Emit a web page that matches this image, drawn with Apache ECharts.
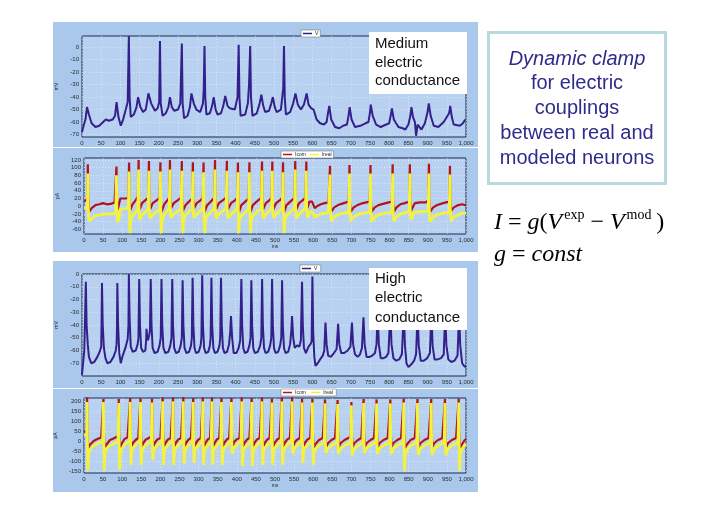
<!DOCTYPE html>
<html>
<head>
<meta charset="utf-8">
<script src="https://cdn.jsdelivr.net/npm/echarts@6.0.0/dist/echarts.min.js"></script>
<style>
html,body{margin:0;padding:0;background:#fff;}
#c{width:728px;height:515px;}
</style>
</head>
<body>
<div id="c"></div>
<script>
// ---------------- DATA ----------------
const xTicks = [0,50,100,150,200,250,300,350,400,450,500,550,600,650,700,750,800,850,900,950,1000];
const yTicksMedV = [-70,-60,-50,-40,-30,-20,-10,0];
const yTicksMedI = [-60,-40,-20,0,20,40,60,80,100,120];
const yTicksHighV = [-70,-60,-50,-40,-30,-20,-10,0];
const yTicksHighI = [-150,-100,-50,0,50,100,150,200];

// Medium conductance: membrane potential V (mV)
const vMed = [[0,-68],[5,-62],[9,-58],[13,-48],[18,-54],[25,-61],[35,-64],[45,-63],[55,-60],[62,-58],[70,-59],[80,-58],[86,-55],[90,-44],[95,-56],[101,-63],[107,-58],[114,-50],[119,-44],[122,9],[124,-40],[127,-56],[135,-54],[142,-48],[146,-40],[152,-48],[159,-52],[166,-50],[173,-37],[180,-45],[190,-51],[197,-49],[201,-44],[203,5],[205,-45],[210,-55],[218,-53],[225,-48],[229,-40],[234,-48],[240,-51],[250,-50],[256,-45],[260,3],[262,-45],[266,-57],[275,-55],[281,-48],[285,-37],[291,-45],[298,-50],[308,-52],[315,-45],[317,-34],[319,1],[321,-40],[324,-54],[333,-53],[339,-47],[343,-40],[348,-50],[353,-54],[362,-53],[368,-47],[373,-39],[379,-47],[385,-49],[398,-50],[405,-40],[408,2],[410,-40],[413,-55],[425,-54],[432,-45],[435,-30],[438,1],[440,-40],[444,-55],[455,-53],[462,-46],[467,-38],[472,-47],[477,-52],[487,-51],[493,-45],[497,-40],[502,-48],[507,-52],[518,-50],[524,-33],[526,1],[528,-40],[531,-54],[542,-52],[550,-45],[556,-37],[562,-46],[570,-50],[578,-46],[585,-37],[590,-46],[597,-49],[603,-50],[611,-58],[620,-61],[630,-62],[637,-60],[641,-52],[644,-47],[649,-58],[659,-64],[670,-65],[680,-63],[690,-62],[694,-55],[697,-48],[702,-58],[711,-64],[725,-63],[738,-61],[746,-60],[750,-52],[752,-46],[757,-55],[766,-62],[778,-64],[792,-62],[800,-61],[805,-53],[807,-49],[812,-58],[824,-64],[835,-65],[842,-66],[850,-62],[855,-55],[858,-48],[862,-56],[867,-60],[870,-71],[874,-62],[884,-66],[893,-61],[900,-52],[903,-45],[908,-55],[916,-63],[928,-64],[942,-60],[948,-57],[952,-55],[956,-53],[959,-47],[963,-56],[968,-62],[984,-63],[992,-61],[998,-58]];

// Medium conductance: currents (pA)
const iComMed = [[0,14],[6,15],[9,22],[10,109],[11,30],[13,-15],[20,-5],[30,3],[40,5],[50,8],[60,5],[70,6],[80,10],[84,15],
[85,103],[86,20],[88,-10],[92,-5],[95,20],[110,20],[116,22],
[118,113],[119,20],[121,-10],[127,5],[135,15],[141,25],
[143,120],[144,20],[146,-8],[152,8],[160,15],[168,22],
[170,117],[171,20],[173,-8],[180,8],[190,15],[198,22],
[200,114],[201,10],[203,-15],[210,5],[218,15],[223,22],
[225,120],[226,20],[228,-5],[235,8],[245,15],[254,22],
[256,117],[257,10],[259,-12],[266,3],[275,12],[283,20],
[285,114],[286,20],[288,-5],[295,8],[305,15],[311,22],
[313,113],[314,10],[316,-15],[322,2],[332,12],[341,22],
[343,120],[344,20],[346,-8],[353,8],[363,15],[372,22],
[374,118],[375,20],[377,-8],[385,8],[395,15],[401,22],
[403,113],[404,10],[406,-15],[412,3],[422,12],[431,20],
[433,114],[434,10],[436,-15],[442,3],[452,12],[464,22],
[466,116],[467,20],[469,-8],[476,8],[485,15],[491,22],
[493,116],[494,20],[496,-8],[503,8],[512,15],[519,22],
[521,114],[522,10],[524,-15],[530,3],[540,12],[551,22],
[553,117],[554,20],[556,-8],[563,8],[572,15],[580,22],
[582,116],[583,20],[585,-5],[590,12],[597,12],[601,8],[604,-5],[610,0],[620,5],[630,8],[640,10],[643,15],
[644,105],[645,15],[647,-15],[655,-3],[665,3],[680,8],[693,12],
[695,107],[696,15],[698,-15],[706,-3],[716,3],[730,8],[748,12],
[750,107],[751,15],[753,-15],[761,-3],[771,3],[790,8],[806,12],
[808,109],[809,15],[811,-15],[818,-3],[828,5],[840,8],[851,12],
[853,109],[854,15],[856,-12],[862,0],[866,8],[880,10],[895,10],[901,15],
[903,110],[904,15],[906,-15],[914,-3],[925,3],[940,8],[956,12],
[958,105],[959,15],[961,-12],[968,-3],[980,3],[990,5],[1000,2]];

const iRealMed = [[0,-5],[5,-8],[9,-5],[10,85],[11,0],[13,-38],[20,-32],[30,-25],[45,-22],[60,-20],[75,-20],[83,-18],
[85,80],[86,-10],[88,-42],[92,-30],[95,-8],[110,-6],[116,-5],
[118,90],[119,-10],[120,-70],[122,-40],[127,-25],[135,-15],[141,-8],
[143,95],[144,-10],[146,-35],[152,-22],[160,-15],[168,-8],
[170,92],[171,-10],[173,-32],[180,-22],[190,-15],[198,-8],
[200,90],[201,-10],[202,-70],[204,-38],[210,-22],[218,-12],[223,-6],
[225,95],[226,-10],[228,-30],[235,-20],[245,-13],[254,-6],
[256,92],[257,-10],[259,-70],[261,-35],[266,-22],[275,-14],[283,-8],
[285,90],[286,-10],[288,-30],[295,-20],[305,-12],[311,-6],
[313,88],[314,-10],[316,-70],[318,-35],[322,-25],[332,-15],[341,-6],
[343,95],[344,-10],[346,-32],[353,-20],[363,-12],[372,-6],
[374,92],[375,-10],[377,-32],[385,-20],[395,-12],[401,-6],
[403,88],[404,-10],[405,-70],[407,-35],[412,-25],[422,-15],[431,-8],
[433,88],[434,-10],[436,-70],[438,-35],[442,-25],[452,-15],[464,-6],
[466,92],[467,-10],[469,-32],[476,-20],[485,-12],[491,-6],
[493,92],[494,-10],[496,-30],[503,-20],[512,-12],[519,-6],
[521,88],[522,-10],[524,-70],[526,-35],[530,-25],[540,-15],[551,-6],
[553,95],[554,-10],[556,-32],[563,-20],[572,-12],[580,-6],
[582,92],[583,-10],[585,-30],[590,-15],[597,-14],[601,-18],[604,-28],[610,-25],[620,-20],[630,-18],[640,-15],[643,-12],
[644,82],[645,-10],[647,-38],[655,-28],[665,-22],[680,-18],[693,-15],
[695,85],[696,-10],[698,-38],[706,-28],[716,-22],[730,-18],[748,-15],
[750,85],[751,-10],[753,-40],[761,-28],[771,-22],[790,-18],[806,-15],
[808,85],[809,-10],[811,-38],[818,-28],[828,-20],[840,-17],[851,-14],
[853,85],[854,-10],[856,-35],[862,-22],[866,-15],[880,-14],[895,-13],[901,-12],
[903,85],[904,-10],[906,-40],[914,-28],[925,-22],[940,-18],[956,-15],
[958,82],[959,-10],[961,-38],[968,-28],[980,-22],[990,-18],[1000,-17]];

// High conductance: membrane potential V (mV)
const vHigh = [[0,-79],[3,-78],[6,-60],[9,-20],[10,-6],[12,-40],[15,-55],[18,-65],[24,-70],[32,-69],[40,-65],[46,-61],[50,-57],[51,-38],[52,-7],[54,-40],[57,-58],[61,-66],[66,-70],[74,-69],[82,-65],[88,-60],[90,-55],[91,-45],[92,-7],[94,-40],[97,-62],[101,-70],[106,-64],[113,-58],[119,-51],[121,-40],[122,0],[124,-35],[127,-57],[132,-61],[140,-60],[145,-55],[147,-50],[149,-4],[151,-40],[154,-58],[159,-61],[165,-60],[167,-52],[168,-43],[170,-50],[172,-52],[175,-48],[177,-44],[179,-4],[181,-40],[184,-58],[189,-62],[197,-61],[202,-56],[205,-50],[207,-4],[209,-40],[212,-58],[217,-62],[225,-61],[230,-56],[233,-50],[235,-4],[237,-40],[240,-58],[245,-62],[252,-61],[257,-56],[260,-50],[262,-5],[264,-40],[267,-58],[272,-62],[279,-61],[284,-56],[286,-50],[288,-3],[290,-40],[293,-58],[297,-62],[304,-61],[309,-56],[311,-50],[313,-1],[315,-40],[318,-58],[322,-62],[329,-61],[333,-56],[335,-50],[337,-3],[339,-40],[342,-58],[346,-62],[353,-61],[358,-56],[360,-50],[362,-3],[364,-40],[367,-58],[371,-62],[378,-61],[383,-55],[386,-45],[388,-33],[391,-50],[395,-62],[402,-62],[408,-58],[412,-52],[415,-4],[417,-40],[420,-58],[424,-62],[431,-61],[436,-56],[439,-50],[441,-5],[443,-40],[446,-58],[450,-62],[458,-61],[464,-56],[467,-50],[469,-4],[471,-40],[474,-58],[478,-62],[485,-61],[490,-56],[493,-50],[495,-4],[497,-40],[500,-58],[504,-62],[511,-61],[516,-56],[519,-50],[521,-5],[523,-40],[526,-58],[530,-62],[537,-61],[542,-55],[545,-45],[547,-33],[550,-50],[554,-58],[560,-56],[566,-57],[570,-52],[573,-6],[575,-40],[578,-58],[583,-62],[590,-57],[595,-55],[598,-53],[600,-2],[602,-45],[605,-65],[608,-72],[614,-70],[620,-67],[627,-64],[631,-60],[634,-38],[637,-55],[641,-64],[648,-65],[656,-62],[663,-59],[667,-39],[670,-55],[675,-62],[683,-62],[692,-60],[699,-57],[703,-38],[706,-55],[711,-63],[718,-65],[724,-63],[729,-58],[733,-34],[736,-55],[741,-65],[749,-65],[756,-64],[763,-62],[767,-55],[770,-30],[773,-55],[778,-66],[785,-66],[792,-65],[798,-62],[803,-30],[806,-55],[811,-66],[818,-68],[826,-67],[833,-63],[838,-30],[841,-56],[845,-70],[850,-73],[857,-71],[865,-68],[870,-63],[874,-30],[877,-56],[882,-68],[890,-68],[899,-66],[906,-62],[910,-30],[913,-56],[918,-67],[926,-67],[935,-66],[942,-63],[946,-30],[949,-56],[954,-67],[962,-69],[970,-68],[978,-64],[982,-30],[985,-56],[990,-70],[995,-72],[1000,-73]];

// High conductance: currents (pA)
const iComHigh = [[0,45],[5,40],[7,50],[8,218],[9,60],[11,-40],[15,-20],[25,0],[35,10],[45,18],[50,25],
[51,212],[52,50],[54,-45],[58,-20],[68,5],[80,15],[89,25],
[91,210],[92,50],[94,-40],[98,-15],[106,10],[114,18],[119,25],
[121,215],[122,50],[124,-35],[128,-10],[135,5],[142,15],[146,25],
[148,215],[149,50],[151,-35],[155,-10],[162,8],[170,15],[176,25],
[178,212],[179,50],[181,-35],[185,-10],[192,8],[200,15],[204,25],
[206,218],[207,50],[209,-35],[213,-10],[220,8],[227,15],[231,25],
[233,218],[234,50],[236,-35],[240,-10],[247,8],[254,15],[258,25],
[260,220],[261,50],[263,-35],[267,-10],[274,8],[280,15],[284,25],
[286,215],[287,50],[289,-35],[293,-10],[300,8],[306,15],[309,25],
[311,218],[312,50],[314,-35],[318,-10],[324,8],[330,15],[333,25],
[335,218],[336,50],[338,-35],[342,-10],[348,8],[354,15],[358,25],
[360,215],[361,50],[363,-35],[367,-10],[374,8],[380,15],[384,25],
[386,215],[387,50],[389,-30],[393,-5],[400,8],[407,15],[411,25],
[413,218],[414,50],[416,-35],[420,-10],[427,8],[433,15],[437,25],
[439,215],[440,50],[442,-35],[446,-10],[453,8],[460,15],[464,25],
[466,218],[467,50],[469,-35],[473,-10],[480,8],[486,15],[490,25],
[492,212],[493,50],[495,-35],[499,-10],[506,8],[512,15],[516,25],
[518,218],[519,50],[521,-35],[525,-10],[532,8],[539,15],[543,25],
[545,218],[546,50],[548,-30],[552,-5],[559,8],[565,15],[569,25],
[571,212],[572,50],[574,-35],[578,-10],[585,8],[592,15],[596,25],
[598,212],[599,50],[601,-35],[606,-15],[615,5],[625,15],[629,22],
[631,208],[632,50],[634,-30],[639,-10],[648,5],[657,15],[662,22],
[664,205],[665,50],[667,-30],[672,-10],[682,5],[692,15],[698,22],
[700,195],[701,50],[703,-30],[708,-10],[717,5],[726,15],[730,22],
[732,210],[733,50],[735,-30],[740,-10],[750,5],[759,15],[764,22],
[766,208],[767,50],[769,-30],[774,-10],[784,5],[795,15],[800,22],
[802,208],[803,50],[805,-30],[810,-10],[820,5],[830,15],[835,22],
[837,212],[838,50],[840,-35],[846,-15],[855,5],[866,15],[871,22],
[873,210],[874,50],[876,-30],[881,-10],[891,5],[902,15],[907,22],
[909,210],[910,50],[912,-30],[917,-10],[927,5],[938,15],[943,22],
[945,210],[946,50],[948,-30],[953,-10],[963,5],[974,15],[979,22],
[981,212],[982,50],[984,-35],[990,-15],[995,0],[1000,10]];

const iRealHigh = [[0,30],[5,20],[7,30],[8,195],[9,0],[10,-150],[12,-60],[18,-35],[28,-20],[40,-10],[49,-2],
[51,195],[52,0],[53,-150],[55,-60],[60,-35],[70,-20],[82,-10],[89,-2],
[91,190],[92,0],[93,-145],[95,-60],[100,-35],[108,-15],[119,-2],
[121,195],[122,0],[123,-120],[125,-50],[130,-30],[138,-15],[146,-2],
[148,195],[149,0],[150,-120],[152,-50],[157,-30],[165,-15],[176,-2],
[178,192],[179,0],[180,-95],[182,-50],[187,-30],[195,-15],[204,-2],
[206,198],[207,0],[208,-120],[210,-50],[215,-30],[223,-15],[231,-2],
[233,198],[234,0],[235,-120],[237,-50],[242,-30],[250,-15],[258,-2],
[260,198],[261,0],[262,-115],[264,-50],[269,-30],[277,-15],[284,-2],
[286,195],[287,0],[288,-110],[290,-50],[295,-30],[303,-15],[309,-2],
[311,198],[312,0],[313,-120],[315,-50],[320,-30],[327,-15],[333,-2],
[335,198],[336,0],[337,-120],[339,-50],[344,-30],[351,-15],[358,-2],
[360,195],[361,0],[362,-120],[364,-50],[369,-30],[377,-15],[384,-2],
[386,195],[387,0],[388,-65],[390,-45],[395,-28],[403,-15],[411,-2],
[413,198],[414,0],[415,-125],[417,-50],[422,-30],[430,-15],[437,-2],
[439,195],[440,0],[441,-125],[443,-50],[448,-30],[456,-15],[464,-2],
[466,198],[467,0],[468,-120],[470,-50],[475,-30],[483,-15],[490,-2],
[492,192],[493,0],[494,-120],[496,-50],[501,-30],[509,-15],[516,-2],
[518,198],[519,0],[520,-120],[522,-50],[527,-30],[535,-15],[543,-2],
[545,198],[546,0],[547,-65],[549,-45],[554,-28],[562,-15],[569,-2],
[571,192],[572,0],[573,-110],[575,-50],[580,-30],[588,-15],[596,-2],
[598,192],[599,0],[600,-120],[602,-55],[608,-35],[617,-20],[629,-8],
[631,188],[632,0],[633,-60],[636,-45],[642,-30],[652,-18],[662,-8],
[664,185],[665,0],[666,-65],[669,-48],[675,-32],[686,-18],[698,-8],
[700,178],[701,0],[702,-70],[705,-50],[711,-32],[721,-18],[730,-8],
[732,190],[733,0],[734,-60],[737,-45],[743,-30],[753,-18],[764,-8],
[766,188],[767,0],[768,-65],[771,-48],[777,-32],[788,-18],[800,-8],
[802,188],[803,0],[804,-65],[807,-48],[813,-32],[824,-18],[835,-8],
[837,192],[838,0],[839,-150],[841,-65],[847,-40],[858,-20],[871,-8],
[873,190],[874,0],[875,-70],[878,-50],[884,-32],[895,-18],[907,-8],
[909,190],[910,0],[911,-70],[914,-50],[920,-32],[931,-18],[943,-8],
[945,190],[946,0],[947,-70],[950,-50],[956,-32],[967,-18],[979,-8],
[981,192],[982,0],[983,-150],[985,-65],[990,-40],[995,-25],[1000,-15]];

// ---------------- CHART ----------------
const chart = echarts.init(document.getElementById('c'));

const PANEL_BG = '#a9c8ec';
const PLOT_BG = '#b8d1f0';
const LABEL_C = '#2b2b2b';
const V_COLOR = '#33208c';
const COM_COLOR = '#b3141c';
const REAL_COLOR = '#f3f33d';

function fmtX(v){ return v === 1000 ? '1,000' : String(v); }

function mkX(gi, showName){
  return {
    type:'value', gridIndex:gi, min:0, max:1000, interval:50,
    axisLine:{show:false}, axisTick:{show:false},
    axisLabel:{fontSize:6, color:LABEL_C, margin:3, formatter:fmtX, fontFamily:'Liberation Sans'},
    splitLine:{show:true, lineStyle:{color:'rgba(235,243,255,0.9)', width:0.6, type:[1,2]}},
    name: showName ? 'ms' : '', nameLocation:'middle', nameGap:10,
    nameTextStyle:{fontSize:5, color:LABEL_C}
  };
}
function mkY(gi, min, max, ticks, name){
  return {
    type:'value', gridIndex:gi, min:min, max:max,
    axisLine:{show:false},
    axisTick:{show:false, customValues:ticks},
    axisLabel:{fontSize:6, color:LABEL_C, margin:3, customValues:ticks, fontFamily:'Liberation Sans'},
    splitLine:{show:true, lineStyle:{color:'rgba(235,243,255,0.9)', width:0.6, type:[1,2]}},
    name:name, nameLocation:'middle', nameRotate:90, nameGap:17,
    nameTextStyle:{fontSize:5, color:LABEL_C}
  };
}
function mkGrid(l,t,w,h){
  return {left:l, top:t, width:w, height:h, show:true, backgroundColor:PLOT_BG,
          borderColor:'#1c2a4e', borderWidth:1, containLabel:false};
}
function line(name, gi, data, color, w, z){
  return {name:name, type:'line', xAxisIndex:gi, yAxisIndex:gi, data:data,
          showSymbol:false, symbol:'none', lineStyle:{color:color, width:w}, itemStyle:{color:color},
          z:z, animation:false, clip:true};
}
function mkLegend(names, left, top){
  return {data:names, left:left, top:top, orient:'horizontal', icon:'rect',
          itemWidth:9, itemHeight:1.5, itemGap:4, padding:[1,2],
          backgroundColor:'#ffffff', borderColor:'#666', borderWidth:0.5,
          textStyle:{fontSize:5, color:'#222', padding:[0,0,0,-2]}, selectedMode:false};
}

const darkText = '#2e2b8c';
const option = {
  animation:false,
  backgroundColor:'#ffffff',
  grid:[ mkGrid(82,36,384,101), mkGrid(84,158,382,76), mkGrid(82,274,384,102), mkGrid(84,398,382,75) ],
  xAxis:[ mkX(0,false), mkX(1,true), mkX(2,false), mkX(3,true) ],
  yAxis:[ mkY(0,-72,9,yTicksMedV,'mV'), mkY(1,-72,125,yTicksMedI,'pA'),
          mkY(2,-80,0,yTicksHighV,'mV'), mkY(3,-160,215,yTicksHighI,'pA') ],
  legend:[ mkLegend(['V'],301,30), mkLegend(['Icom','Ireal'],281,151),
           mkLegend(['V '],300,265), mkLegend(['Icom ','Ireal '],281,389) ],
  series:[
    line('V',0,vMed,V_COLOR,2,3),
    line('Icom',1,iComMed,COM_COLOR,2.2,3),
    line('Ireal',1,iRealMed,REAL_COLOR,2.8,4),
    line('V ',2,vHigh,V_COLOR,2,3),
    line('Icom ',3,iComHigh,COM_COLOR,2.2,3),
    line('Ireal ',3,iRealHigh,REAL_COLOR,2.8,4)
  ],
  graphic:[
    {type:'rect', z:-100, shape:{x:53,y:22,width:425,height:125}, style:{fill:PANEL_BG}},
    {type:'rect', z:-100, shape:{x:53,y:148,width:425,height:104}, style:{fill:PANEL_BG}},
    {type:'rect', z:-100, shape:{x:53,y:261,width:425,height:127}, style:{fill:PANEL_BG}},
    {type:'rect', z:-100, shape:{x:53,y:389,width:425,height:103}, style:{fill:PANEL_BG}},
    // annotation boxes
    {type:'rect', z:100, shape:{x:369,y:32,width:98,height:62}, style:{fill:'#ffffff'}},
    {type:'text', z:101, left:375, top:35, style:{text:'Medium\nelectric\nconductance', fill:'#111', font:'15px "Liberation Sans", Arial, sans-serif', lineHeight:18.5}},
    {type:'rect', z:100, shape:{x:369,y:268,width:98,height:62}, style:{fill:'#ffffff'}},
    {type:'text', z:101, left:375, top:269, style:{text:'High\nelectric\nconductance', fill:'#111', font:'15px "Liberation Sans", Arial, sans-serif', lineHeight:19.5}},
    // right box
    {type:'rect', z:100, shape:{x:488.5,y:32.5,width:177,height:151}, style:{fill:'#ffffff', stroke:'#b9d8e0', lineWidth:3}},
    {type:'text', z:101, x:577, y:59, style:{text:'Dynamic clamp', fill:darkText, font:'italic 20px "Liberation Sans", Arial, sans-serif', align:'center', verticalAlign:'middle'}},
    {type:'text', z:101, x:577, y:83, style:{text:'for electric', fill:darkText, font:'20px "Liberation Sans", Arial, sans-serif', align:'center', verticalAlign:'middle'}},
    {type:'text', z:101, x:577, y:108, style:{text:'couplings', fill:darkText, font:'20px "Liberation Sans", Arial, sans-serif', align:'center', verticalAlign:'middle'}},
    {type:'text', z:101, x:577, y:133, style:{text:'between real and', fill:darkText, font:'20px "Liberation Sans", Arial, sans-serif', align:'center', verticalAlign:'middle'}},
    {type:'text', z:101, x:577, y:158, style:{text:'modeled neurons', fill:darkText, font:'20px "Liberation Sans", Arial, sans-serif', align:'center', verticalAlign:'middle'}},
    // formulas
    {type:'text', z:101, x:494, y:223, style:{
      text:'{i|I}{n|\u00a0=\u00a0}{i|g}{n|(}{i|V}{s|exp}{n|\u00a0−\u00a0}{i|V}{s|mod}{n|\u2009)}',
      verticalAlign:'middle',
      rich:{
        i:{fontFamily:'Liberation Serif', fontStyle:'italic', fontSize:24, lineHeight:30, fill:'#000', verticalAlign:'middle'},
        n:{fontFamily:'Liberation Serif', fontSize:24, lineHeight:30, fill:'#000', verticalAlign:'middle'},
        s:{fontFamily:'Liberation Serif', fontSize:14, lineHeight:12, fill:'#000', verticalAlign:'top', padding:[0,0,0,2]}
      }
    }},
    {type:'text', z:101, x:494, y:255, style:{
      text:'{i|g}{n|\u00a0=\u00a0}{i|const}', verticalAlign:'middle',
      rich:{
        i:{fontFamily:'Liberation Serif', fontStyle:'italic', fontSize:24, fill:'#000'},
        n:{fontFamily:'Liberation Serif', fontSize:24, fill:'#000'}
      }
    }}
  ]
};
chart.setOption(option);
</script>
</body>
</html>
